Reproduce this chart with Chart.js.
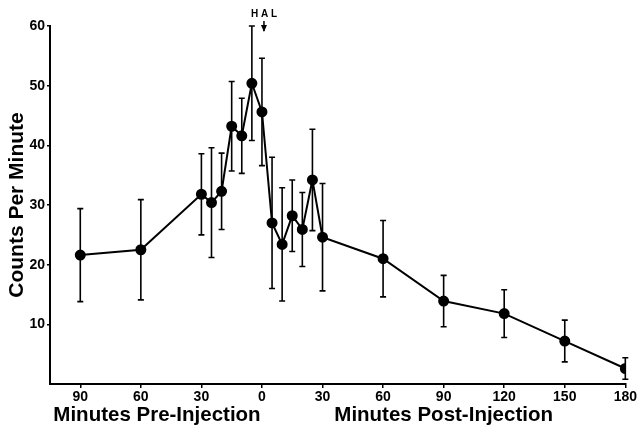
<!DOCTYPE html>
<html>
<head>
<meta charset="utf-8">
<script src="https://cdn.jsdelivr.net/npm/chart.js@4"></script>
<style>
  html, body { margin: 0; padding: 0; background: #fff; }
  #wrap { width: 638px; height: 430px; }
</style>
</head>
<body>
<div id="wrap"><canvas id="countsChart"></canvas></div>
<script>
// data (minutes relative to HAL injection)
const minutes = [-90, -60, -30, -25, -20, -15, -10, -5, 0, 5, 10, 15, 20, 25, 30, 60, 90, 120, 150, 180];
const counts  = [21.6, 22.5, 31.8, 30.4, 32.3, 43.2, 41.6, 50.4, 45.6, 27.0, 23.4, 28.2, 25.9, 34.2, 24.6, 21.0, 13.9, 11.8, 7.2, 2.6];
const errors  = [7.8, 8.4, 6.8, 9.2, 6.4, 7.5, 6.3, 9.6, 9.0, 11.0, 9.5, 6.0, 6.2, 8.5, 9.0, 6.4, 4.3, 4.0, 3.5, 1.8];
const xTicks  = [-90, -60, -30, 0, 30, 60, 90, 120, 150, 180];
const yTicks  = [10, 20, 30, 40, 50, 60];

const FONT = "'Liberation Sans', Arial, Helvetica, sans-serif";

// error bars with caps
const errorBars = {
  id: 'errorBars',
  beforeDatasetsDraw(chart) {
    const { ctx, scales: { x, y } } = chart;
    ctx.save();
    ctx.strokeStyle = '#000';
    ctx.lineWidth = 1.6;
    minutes.forEach((m, i) => {
      const px = x.getPixelForValue(m);
      const top = y.getPixelForValue(counts[i] + errors[i]);
      const bot = y.getPixelForValue(counts[i] - errors[i]);
      ctx.beginPath();
      ctx.moveTo(px, top); ctx.lineTo(px, bot);
      ctx.moveTo(px - 3, top); ctx.lineTo(px + 3, top);
      ctx.moveTo(px - 3, bot); ctx.lineTo(px + 3, bot);
      ctx.stroke();
    });
    ctx.restore();
  }
};

// HAL marker and the two x axis captions
const annotations = {
  id: 'annotations',
  afterDraw(chart) {
    const { ctx, scales: { x } } = chart;
    const px = x.getPixelForValue(0) + 2;
    ctx.save();
    ctx.fillStyle = '#000';
    ctx.strokeStyle = '#000';
    ctx.font = 'bold 10px ' + FONT;
    ctx.textAlign = 'center';
    ctx.textBaseline = 'middle';
    ctx.fillText('H A L', px, 14);
    ctx.lineWidth = 1.5;
    ctx.beginPath();
    ctx.moveTo(px, 21); ctx.lineTo(px, 31);
    ctx.stroke();
    ctx.beginPath();
    ctx.moveTo(px - 3, 25); ctx.lineTo(px + 3, 25); ctx.lineTo(px, 32);
    ctx.closePath();
    ctx.fill();

    ctx.font = 'bold 20.5px ' + FONT;
    ctx.fillText('Minutes Pre-Injection', x.getPixelForValue(-52), 415);
    ctx.fillText('Minutes Post-Injection', x.getPixelForValue(90), 415);
    ctx.restore();
  }
};

new Chart(document.getElementById('countsChart'), {
  type: 'scatter',
  data: {
    datasets: [{
      data: minutes.map((m, i) => ({ x: m, y: counts[i] })),
      showLine: true,
      borderColor: '#000',
      borderWidth: 2,
      backgroundColor: '#000',
      pointRadius: 4.5,
      pointHoverRadius: 4.5
    }]
  },
  options: {
    responsive: true,
    maintainAspectRatio: false,
    animation: false,
    layout: { padding: { top: 26, right: 11, left: 0, bottom: 0 } },
    plugins: { legend: { display: false }, tooltip: { enabled: false } },
    scales: {
      x: {
        type: 'linear',
        min: -105,
        max: 180,
        afterBuildTicks: s => { s.ticks = xTicks.map(v => ({ value: v })); },
        afterFit: s => { s.height = 46; },
        border: { display: true, color: '#000', width: 2 },
        grid: { display: true, drawOnChartArea: false, drawTicks: true, tickLength: 4, color: '#000', lineWidth: 1.5 },
        ticks: {
          color: '#000',
          font: { family: FONT, size: 14, weight: 'bold' },
          padding: 1,
          maxRotation: 0,
          callback: v => Math.abs(v)
        }
      },
      y: {
        min: 0,
        max: 60,
        afterBuildTicks: s => { s.ticks = yTicks.map(v => ({ value: v })); },
        afterFit: s => { s.width = 50; },
        border: { display: true, color: '#000', width: 2 },
        grid: { display: true, drawOnChartArea: false, drawTicks: true, tickLength: 3, color: '#000', lineWidth: 1.5 },
        title: {
          display: true,
          text: 'Counts Per Minute',
          color: '#000',
          font: { family: FONT, size: 21, weight: 'bold' },
          padding: { top: 5, bottom: 0 }
        },
        ticks: {
          color: '#000',
          font: { family: FONT, size: 14, weight: 'bold' },
          padding: 2
        }
      }
    }
  },
  plugins: [errorBars, annotations]
});
</script>
</body>
</html>
